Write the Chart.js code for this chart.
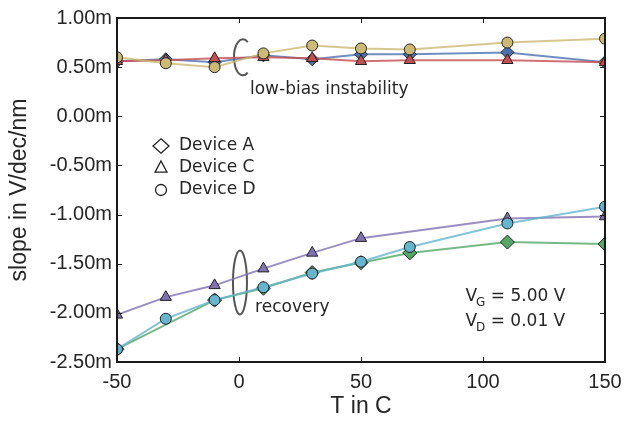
<!DOCTYPE html>
<html>
<head>
<meta charset="utf-8">
<script src="https://cdn.jsdelivr.net/npm/chart.js@4.4.1/dist/chart.umd.min.js"></script>
<style>
  body { margin: 0; background: #fff; }
  #wrap { width: 634px; height: 423px; }
</style>
</head>
<body>
<div id="wrap"><canvas id="slopeChart"></canvas></div>
<script>
// temperatures in C
const tempsAll = [-50, -30, -10, 10, 30, 50, 70, 110, 150];
const tempsRecA = [-50, -10, 10, 30, 50, 70, 110, 150];
const tempsRecC = [-50, -30, -10, 10, 30, 50, 110, 150];

// slope in mV/dec/nm (axis labels carry the "m")
const lowBiasA = [0.56, 0.58, 0.55, 0.62, 0.58, 0.63, 0.63, 0.65, 0.55];
const lowBiasC = [0.56, 0.57, 0.59, 0.60, 0.59, 0.56, 0.57, 0.57, 0.55];
const lowBiasD = [0.60, 0.54, 0.50, 0.64, 0.72, 0.69, 0.68, 0.75, 0.79];
const recoveryA = [-2.37, -1.87, -1.75, -1.59, -1.49, -1.39, -1.28, -1.30];
const recoveryC = [-2.02, -1.84, -1.72, -1.55, -1.39, -1.24, -1.04, -1.02];
const recoveryD = [-2.37, -2.06, -1.87, -1.74, -1.60, -1.48, -1.33, -1.09, -0.92];

const xTicks = [-50, 0, 50, 100, 150];
const yTicks = [-2.5, -2.0, -1.5, -1.0, -0.5, 0.0, 0.5, 1.0];

const legendNames = ['Device A', 'Device C', 'Device D'];

const textColor = '#262626';

function pts(xs, ys) {
    return xs.map((x, i) => ({ x: x, y: ys[i] }));
}

function series(label, xs, ys, color, style, radius) {
    return {
        label: label,
        data: pts(xs, ys),
        showLine: true,
        borderColor: color + 'cc',
        borderWidth: 2,
        backgroundColor: color,
        pointBackgroundColor: color,
        pointBorderColor: '#222',
        pointBorderWidth: 1,
        pointStyle: style,
        pointRadius: radius,
        pointHoverRadius: radius,
        clip: 0
    };
}

// first dataset is drawn on top
const datasets = [
    series('D low', tempsAll, lowBiasD, '#CCB974', 'circle', 5.5),
    series('C low', tempsAll, lowBiasC, '#C44E52', 'triangle', 6.5),
    series('A low', tempsAll, lowBiasA, '#4C72B0', 'rectRot', 6.5),
    series('D rec', tempsAll, recoveryD, '#64B5CD', 'circle', 5.5),
    series('C rec', tempsRecC, recoveryC, '#8172B2', 'triangle', 6.5),
    series('A rec', tempsRecA, recoveryA, '#55A868', 'rectRot', 7)
];

function drawMarker(ctx, style, x, y, r) {
    ctx.beginPath();
    if (style === 'diamond') {
        ctx.moveTo(x, y - r * 0.9); ctx.lineTo(x + r, y); ctx.lineTo(x, y + r * 0.9); ctx.lineTo(x - r, y);
        ctx.closePath();
    } else if (style === 'triangle') {
        ctx.moveTo(x, y - r); ctx.lineTo(x + r * 0.85, y + r * 0.6); ctx.lineTo(x - r * 0.85, y + r * 0.6);
        ctx.closePath();
    } else {
        ctx.arc(x, y, r, 0, Math.PI * 2);
    }
    ctx.stroke();
}

const decorations = {
    id: 'decorations',
    beforeDatasetsDraw(chart) {
        const ctx = chart.ctx;
        const xs = chart.scales.x, ys = chart.scales.y;
        ctx.save();
        ctx.strokeStyle = '#555';
        ctx.lineWidth = 2;
        // low-bias bracket (open on the right)
        ctx.beginPath();
        ctx.ellipse(xs.getPixelForValue(1.6), ys.getPixelForValue(0.60), 9, 18, 0, 0.32 * Math.PI, 1.68 * Math.PI);
        ctx.stroke();
        // recovery ellipse
        ctx.beginPath();
        ctx.ellipse(xs.getPixelForValue(0.4), ys.getPixelForValue(-1.69), 7, 32, 0, 0, Math.PI * 2);
        ctx.stroke();

        ctx.fillStyle = textColor;
        ctx.font = '17px "DejaVu Sans"';
        ctx.textBaseline = 'middle';
        ctx.textAlign = 'left';
        ctx.fillText('low-bias instability', xs.getPixelForValue(4.5), ys.getPixelForValue(0.27));
        ctx.fillText('recovery', xs.getPixelForValue(6.6), ys.getPixelForValue(-1.95));

        // bias conditions
        const vx = xs.getPixelForValue(92.8);
        [['G', '= 5.00 V', -1.835], ['D', '= 0.01 V', -2.09]].forEach(([sub, rest, v]) => {
            const y = ys.getPixelForValue(v);
            ctx.font = '17px "DejaVu Sans"';
            ctx.fillText('V', vx, y);
            const w = ctx.measureText('V').width;
            ctx.font = '12px "DejaVu Sans"';
            ctx.fillText(sub, vx + w - 1, y + 6);
            const ws = ctx.measureText(sub).width;
            ctx.font = '17px "DejaVu Sans"';
            ctx.fillText(' ' + rest, vx + w + ws - 1, y);
        });

        // legend with hollow markers
        const lx = 161, ly = [146, 168, 190];
        const styles = ['diamond', 'triangle', 'circle'];
        const sizes = [8, 7, 5.5];
        ctx.strokeStyle = '#222';
        ctx.lineWidth = 1.3;
        legendNames.forEach((name, i) => {
            drawMarker(ctx, styles[i], lx, ly[i], sizes[i]);
            ctx.font = '17px "DejaVu Sans"';
            ctx.fillText(name, 179, ly[i]);
        });
        ctx.restore();
    },
    afterDatasetsDraw(chart) {
        const ctx = chart.ctx;
        const a = chart.chartArea;
        const xs = chart.scales.x, ys = chart.scales.y;
        ctx.save();
        ctx.strokeStyle = '#1a1a1a';
        ctx.lineWidth = 1;
        ctx.beginPath();
        xTicks.forEach(t => {
            const px = Math.round(xs.getPixelForValue(t)) + 0.5;
            ctx.moveTo(px, a.bottom); ctx.lineTo(px, a.bottom - 5);
            ctx.moveTo(px, a.top); ctx.lineTo(px, a.top + 5);
        });
        yTicks.forEach(t => {
            const py = Math.round(ys.getPixelForValue(t)) + 0.5;
            ctx.moveTo(a.left, py); ctx.lineTo(a.left + 5, py);
            ctx.moveTo(a.right, py); ctx.lineTo(a.right - 5, py);
        });
        ctx.stroke();
        ctx.lineWidth = 2;
        ctx.strokeRect(a.left, a.top, a.right - a.left, a.bottom - a.top);
        ctx.restore();
    }
};

const ctx = document.getElementById('slopeChart').getContext('2d');
new Chart(ctx, {
    type: 'scatter',
    data: { datasets: datasets },
    options: {
        responsive: true,
        maintainAspectRatio: false,
        animation: false,
        layout: { padding: { top: 18, right: 29, left: 0, bottom: 0 } },
        plugins: {
            legend: { display: false },
            tooltip: { enabled: false }
        },
        scales: {
            x: {
                type: 'linear',
                min: -50,
                max: 150,
                afterBuildTicks: scale => { scale.ticks = xTicks.map(v => ({ value: v })); },
                afterFit: scale => { scale.height = 61; },
                grid: { display: false, drawTicks: false },
                border: { display: false },
                ticks: {
                    color: textColor,
                    font: { family: 'Liberation Sans', size: 20 },
                    padding: 8,
                    maxRotation: 0
                },
                title: {
                    display: true,
                    text: 'T in C',
                    color: textColor,
                    font: { family: 'Liberation Sans', size: 23 },
                    padding: { top: 0, bottom: 3 }
                }
            },
            y: {
                type: 'linear',
                min: -2.5,
                max: 1.0,
                afterBuildTicks: scale => { scale.ticks = yTicks.map(v => ({ value: v })); },
                afterFit: scale => { scale.width = 117; },
                grid: { display: false, drawTicks: false },
                border: { display: false },
                ticks: {
                    color: textColor,
                    font: { family: 'Liberation Sans', size: 20 },
                    padding: 5,
                    callback: v => v.toFixed(2) + 'm'
                },
                title: {
                    display: true,
                    text: 'slope in V/dec/nm',
                    color: textColor,
                    font: { family: 'Liberation Sans', size: 23 },
                    padding: { top: 6, bottom: 0 }
                }
            }
        }
    },
    plugins: [decorations]
});
</script>
</body>
</html>
